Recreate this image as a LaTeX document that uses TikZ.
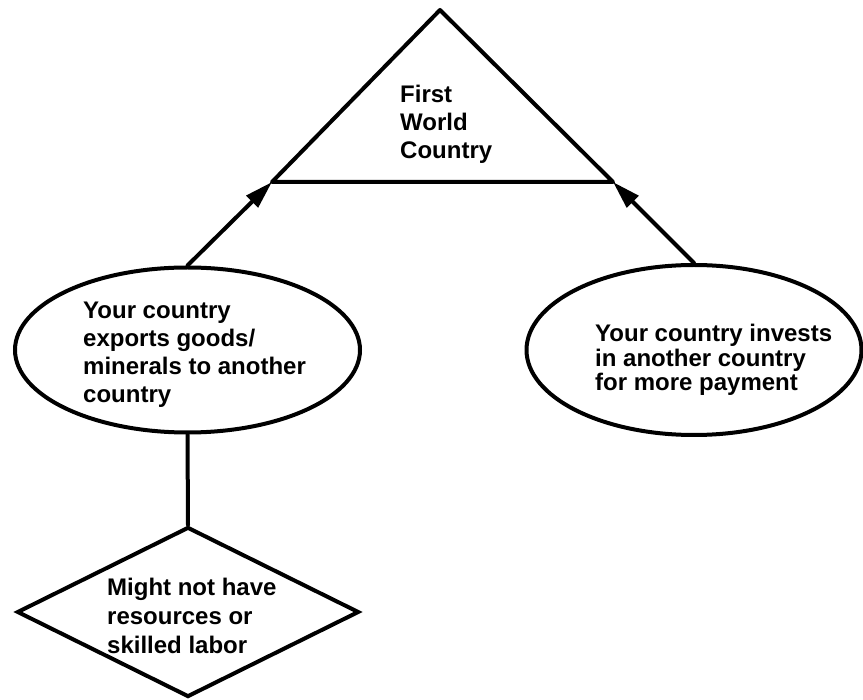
\documentclass[tikz,border=0pt]{standalone}
\usepackage{fontspec}
\setmainfont{Liberation Sans}
\usetikzlibrary{shapes.geometric,arrows.meta}
\begin{document}
\begin{tikzpicture}[x=1pt,y=-1pt,
  outline/.style={draw=black,line width=4pt,inner sep=0pt},
  txt/.style={inner sep=0pt,anchor=north west,align=left,font=\bfseries\fontsize{24}{28}\selectfont},
  link/.style={line width=4pt,line cap=round},
  arr/.style={link,-{Triangle[length=28pt,width=16pt]}}]
\useasboundingbox (0,0) rectangle (863,700);
% triangle
\coordinate (apex) at (440,10);
\coordinate (bl) at (272,182);
\coordinate (br) at (613,182);
\draw[link,line join=round] (apex) -- (bl) -- (br) -- cycle;
\node[txt] (tt) at (400,85) {First\\World\\Country};
% ellipses
\node[ellipse,outline,minimum width=345pt,minimum height=165pt] (le) at (187.5,350) {};
\node[ellipse,outline,minimum width=335pt,minimum height=170pt] (re) at (694,350) {};
\node[txt] (lt) at (83,302) {Your country\\exports goods/\\minerals to another\\country};
\node[txt,font=\bfseries\fontsize{24}{24.5}\selectfont] (rt) at (595,324) {Your country invests\\in another country\\for more payment};
% diamond
\node[diamond,outline,minimum width=342pt,minimum height=170pt] (dm) at (188,612) {};
\node[txt,font=\bfseries\fontsize{24}{29}\selectfont] (dt) at (107,578) {Might not have\\resources or\\skilled labor};
% connectors
\draw[arr] (le.north) -- (bl);
\draw[arr] (re.north) -- (br);
\draw[link] (le.south) -- (dm.north);
\end{tikzpicture}
\end{document}
